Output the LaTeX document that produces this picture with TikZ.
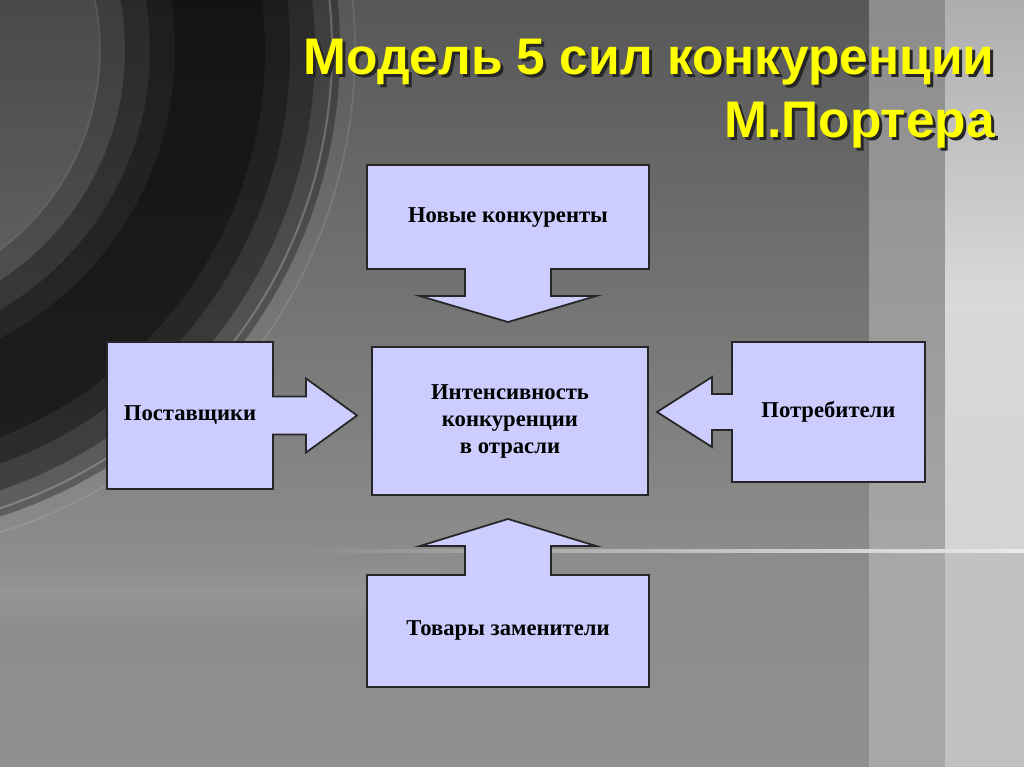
\documentclass[tikz,border=0pt]{standalone}
\usepackage{fontspec}
\setmainfont{Liberation Serif}
\newfontfamily\headfont{Liberation Sans}
\usetikzlibrary{positioning,calc}
\definecolor{boxfill}{HTML}{CCCCFF}
\definecolor{headyellow}{HTML}{FFFF00}
\definecolor{bgtop}{HTML}{575757}
\definecolor{bgmid}{HTML}{8C8C8C}
\definecolor{bglow}{HTML}{8F8F8F}
\pgfdeclarelayer{backdrop}
\pgfdeclarelayer{shapes}
\pgfsetlayers{backdrop,shapes,main}
% yellow text with a dark drop shadow
\newcommand\shadowed[1]{\rlap{\kern0.06cm\raisebox{-0.06cm}{\textcolor{black!85}{#1}}}#1}
\tikzset{node distance=1.6cm,
  forcebox/.style={inner sep=0pt, outer sep=0pt, align=center,
    font=\bfseries\fontsize{12.9}{15.3}\selectfont},
  outline/.style={draw=black!85, line width=1pt, fill=boxfill},
  headline/.style={anchor=base east, inner sep=0pt,
    font=\headfont\bfseries\fontsize{29.3}{35}\selectfont, text=headyellow}}

\begin{document}
\begin{tikzpicture}[x=0.02cm, y=-0.02cm]
\useasboundingbox (0,0) rectangle (1024,767);

% title
\node[headline] (t1) at (995,75) {\shadowed{Модель 5 сил конкуренции}};
\node[headline] (t2) at (995,137) {\shadowed{М.Портера}};

% the five forces
\node[forcebox, minimum width=5.52cm, minimum height=2.96cm] (ik) at (510,421)
  {\raisebox{-0.1cm}{\begin{tabular}{@{}c@{}}Интенсивность\\конкуренции\\в отрасли\end{tabular}}};
\node[forcebox, minimum width=5.64cm, minimum height=2.08cm] (nk)
  [above=1.56cm of ik, xshift=-0.04cm] {Новые конкуренты};
\node[forcebox, minimum width=5.64cm, minimum height=2.24cm] (tz)
  [below=1.6cm of ik, xshift=-0.04cm] {\raisebox{-0.28cm}{Товары заменители}};
\node[forcebox, minimum width=3.32cm, minimum height=2.94cm] (ps)
  [left=1.98cm of ik, yshift=0.11cm] {\raisebox{-0.05cm}{Поставщики}};
\node[forcebox, minimum width=3.86cm, minimum height=2.8cm] (pt)
  [right=1.68cm of ik, yshift=0.18cm] {Потребители};

\begin{pgfonlayer}{shapes}
\draw[outline] (ik.north west) rectangle (ik.south east);
% down arrow
\draw[outline] (nk.north west) -- (nk.north east) -- (nk.south east)
  -- ($(nk.south)+(43,0)$) -- ++(0,27) -- ++(45,0) -- ($(nk.south)+(0,53)$)
  -- ($(nk.south)+(-88,27)$) -- ++(45,0) -- ++(0,-27) -- (nk.south west) -- cycle;
% up arrow
\draw[outline] (tz.south west) -- (tz.north west)
  -- ($(tz.north)+(-43,0)$) -- ++(0,-29) -- ++(-45,0) -- ($(tz.north)+(0,-56)$)
  -- ($(tz.north)+(88,-29)$) -- ++(-45,0) -- ++(0,29) -- (tz.north east)
  -- (tz.south east) -- cycle;
% right arrow
\draw[outline] (ps.north west) -- (ps.north east)
  -- ($(ps.east)+(0,-19)$) -- ++(33,0) -- ++(0,-18) -- ($(ps.east)+(84,0)$)
  -- ($(ps.east)+(33,37)$) -- ++(0,-18) -- ++(-33,0) -- (ps.south east)
  -- (ps.south west) -- cycle;
% left arrow
\draw[outline] (pt.north east) -- (pt.north west)
  -- ($(pt.west)+(0,-18)$) -- ++(-20,0) -- ++(0,-17) -- ($(pt.west)+(-75,0)$)
  -- ($(pt.west)+(-20,35)$) -- ++(0,-17) -- ++(20,0) -- (pt.south west)
  -- (pt.south east) -- cycle;
\end{pgfonlayer}

% backdrop
\begin{pgfonlayer}{backdrop}
\begin{scope}
\clip (0,0) rectangle (1024,767);
\shade[top color=bgtop, bottom color=bgmid] (0,0) rectangle (1024,551);
\shade[top color=bgmid, bottom color=bglow] (0,551) rectangle (1024,767);
\foreach \h in {6,14,22,30}
  \fill[white, opacity=0.02] (0,592-\h) rectangle (400+2*\h,592+\h);
\fill[black, opacity=0.15] (-150,50) circle (250);
\foreach \w in {240,190,140,90}
  \draw[black, opacity=0.3, line width=\w*0.02cm] (-150,50) circle (370);
\draw[white, opacity=0.22, line width=1.2pt] (-150,50) circle (482);
\draw[white, opacity=0.1, line width=1pt] (-150,50) circle (505);
\draw[white, opacity=0.1, line width=1pt] (-150,50) circle (250);
\shade[top color=black!45, bottom color=black!35] (869,0) rectangle (945,551);
\shade[top color=black!32, bottom color=black!15] (945,0) rectangle (1024,300);
\shade[top color=black!15, bottom color=black!17] (945,300) rectangle (1024,551);
\fill[black!34] (869,551) rectangle (945,767);
\fill[black!24] (945,551) rectangle (1024,767);
\shade[left color=black!45, right color=white!92!black] (300,549.5) rectangle (1024,552.5);
\end{scope}
\end{pgfonlayer}
\end{tikzpicture}
\end{document}
